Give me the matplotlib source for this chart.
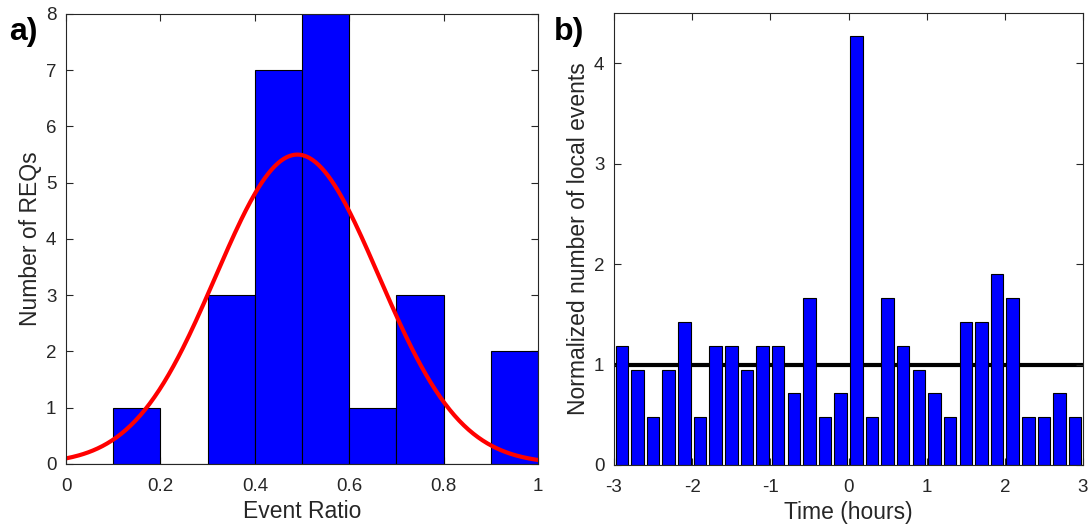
import numpy as np
import matplotlib
matplotlib.use('Agg')
import matplotlib.pyplot as plt

plt.rcParams['font.family'] = ['Liberation Sans', 'DejaVu Sans']
plt.rcParams['axes.unicode_minus'] = False

# panel a: event ratio histogram
ratio_edges = [0.0, 0.1, 0.2, 0.3, 0.4, 0.5, 0.6, 0.7, 0.8, 0.9, 1.0]
ratio_counts = [0, 1, 0, 3, 7, 8, 1, 3, 0, 2]
# gaussian fit parameters
fit_mu = 0.49
fit_sigma = 0.173
fit_peak = 5.5

# panel b: normalized local events per 12 min bin
time_centers = [-2.9, -2.7, -2.5, -2.3, -2.1, -1.9, -1.7, -1.5, -1.3, -1.1,
                -0.9, -0.7, -0.5, -0.3, -0.1, 0.1, 0.3, 0.5, 0.7, 0.9,
                1.1, 1.3, 1.5, 1.7, 1.9, 2.1, 2.3, 2.5, 2.7, 2.9]
event_counts = [5, 4, 2, 4, 6, 2, 5, 5, 4, 5,
                5, 3, 7, 2, 3, 18, 2, 7, 5, 4,
                3, 2, 6, 6, 8, 7, 2, 2, 3, 2]
norm_factor = 0.2375
background_level = 1.0

dark = '#262626'
fig = plt.figure(figsize=(10.9, 5.31), dpi=100)
ax1 = fig.add_axes([0.0606, 0.1262, 0.433, 0.8475])
ax2 = fig.add_axes([0.5633, 0.1243, 0.4303, 0.8512])

# --- a) ---
edges = np.array(ratio_edges)
ax1.bar(edges[:-1], ratio_counts, width=np.diff(edges), align='edge',
        color='#0000ff', edgecolor='black', linewidth=0.8, zorder=2)
xs = np.linspace(0, 1, 300)
ax1.plot(xs, fit_peak * np.exp(-(xs - fit_mu) ** 2 / (2 * fit_sigma ** 2)),
         color='red', linewidth=3, zorder=3)
ax1.set_xlim(0, 1)
ax1.set_ylim(0, 8)
ax1.set_xticks([0, 0.2, 0.4, 0.6, 0.8, 1])
ax1.set_xticklabels(['0', '0.2', '0.4', '0.6', '0.8', '1'])
ax1.set_yticks(range(0, 9))
ax1.set_xlabel('Event Ratio', fontsize=16.5, color=dark, labelpad=4)
ax1.set_ylabel('Number of REQs', fontsize=16.5, color=dark, labelpad=3)

# --- b) ---
vals = np.array(event_counts) * norm_factor
ax2.axhline(background_level, color='black', linewidth=3, zorder=1)
ax2.bar(time_centers, vals, width=0.16, color='#0000ff',
        edgecolor='black', linewidth=0.8, zorder=2)
ax2.set_xlim(-3, 3)
ax2.set_ylim(0, 4.5)
ax2.set_xticks(range(-3, 4))
ax2.set_yticks(range(0, 5))
ax2.set_xlabel('Time (hours)', fontsize=16.5, color=dark, labelpad=4)
ax2.set_ylabel('Normalized number of local events', fontsize=16.5,
               color=dark, labelpad=3)

for ax in (ax1, ax2):
    ax.tick_params(direction='in', top=True, right=True, length=5,
                   width=0.8, labelsize=13.5, colors=dark)
    ax.tick_params(axis='x', pad=10)
    ax.tick_params(axis='y', pad=7)
    for s in ax.spines.values():
        s.set_color(dark)
        s.set_linewidth(0.8)
        s.set_zorder(5)

fig.text(9 / 1090, 1 - 32 / 531, 'a)', fontsize=23, fontweight='bold',
         va='center', ha='left')
fig.text(554 / 1090, 1 - 32 / 531, 'b)', fontsize=23, fontweight='bold',
         va='center', ha='left')

fig.savefig('out.png', dpi=100)
